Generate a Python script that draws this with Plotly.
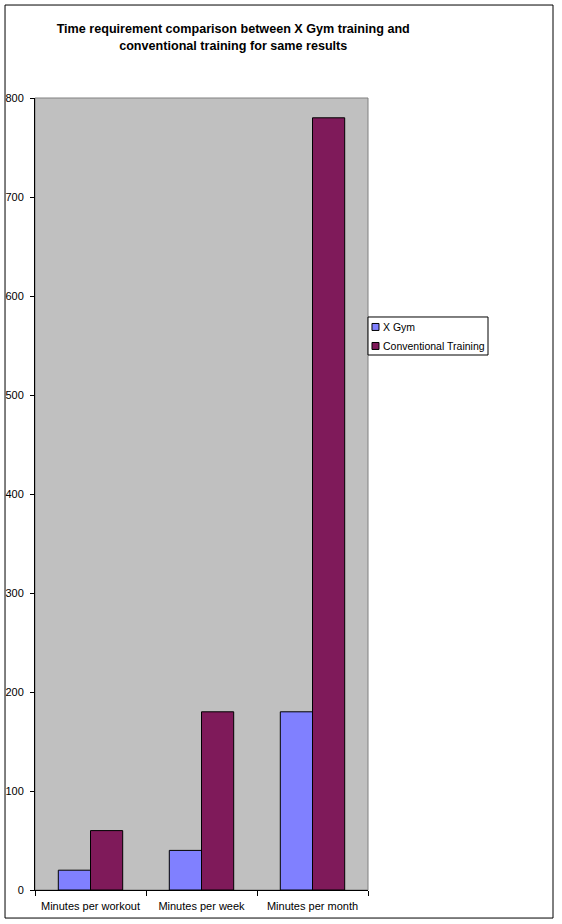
import plotly.graph_objects as go

categories = ["Minutes per workout", "Minutes per week", "Minutes per month"]
x_gym = [20, 40, 180]
conventional = [60, 180, 780]
y_ticks = [0, 100, 200, 300, 400, 500, 600, 700, 800]
series_names = ["X Gym", "Conventional Training"]
series_colors = ["#8080FF", "#7F1A5A"]

FONT = "Liberation Sans, Arial, sans-serif"

fig = go.Figure()
for name, vals, color in zip(series_names, [x_gym, conventional], series_colors):
    fig.add_trace(go.Bar(
        x=categories, y=vals, name=name,
        marker=dict(color=color, line=dict(color="black", width=1)),
    ))

fig.update_layout(
    width=562, height=924,
    margin=dict(l=35, r=194, t=98, b=34),
    paper_bgcolor="white",
    plot_bgcolor="#C0C0C0",
    barmode="group",
    bargap=0.42,
    bargroupgap=0,
    font=dict(family=FONT, size=11, color="black"),
    title=dict(
        text="Time requirement comparison between X Gym training and<br>conventional training for same results",
        font=dict(family=FONT, size=12.6, color="black", weight="bold"),
        x=0.415, xanchor="center", y=0.964, yanchor="top",
    ),
    showlegend=False,
)

fig.update_xaxes(
    showline=True, linecolor="black", linewidth=1,
    ticks="outside", tickson="boundaries", ticklen=5, tickcolor="black",
    ticklabelstandoff=6, automargin=False,
    showgrid=False, mirror=False,
)
fig.update_yaxes(
    range=[0, 800], tickvals=y_ticks,
    showline=True, linecolor="black", linewidth=1,
    ticks="outside", ticklen=4, tickcolor="black",
    ticklabelstandoff=4, automargin=False,
    showgrid=False, zeroline=False,
)

# plot area border and outer frame
fig.add_shape(type="rect", xref="paper", yref="paper", x0=0, x1=1, y0=0, y1=1,
              line=dict(color="#808080", width=1), layer="below")
fig.add_shape(type="rect", xref="paper", yref="paper", x0=-0.09, x1=1.5556,
              y0=-0.0354, y1=1.1174, line=dict(color="black", width=1))

# legend box drawn Excel-style (compact, small swatches)
fig.add_shape(type="rect", xref="paper", yref="paper", x0=1.0, x1=1.3604,
              y0=0.6755, y1=0.7235, line=dict(color="black", width=1),
              fillcolor="white")
for i, (name, color) in enumerate(zip(series_names, series_colors)):
    yc = 0.7109 - i * 0.024
    fig.add_shape(type="rect", xref="paper", yref="paper", x0=1.012, x1=1.033,
                  y0=yc - 0.0044, y1=yc + 0.0044,
                  line=dict(color="black", width=1), fillcolor=color)
    fig.add_annotation(xref="paper", yref="paper", x=1.039, y=yc, text=name,
                       showarrow=False, xanchor="left", yanchor="middle",
                       font=dict(family=FONT, size=10.5, color="black"))

fig.write_html("out.html", config={"displayModeBar": False},
               post_script="document.body.style.margin='0px';")
